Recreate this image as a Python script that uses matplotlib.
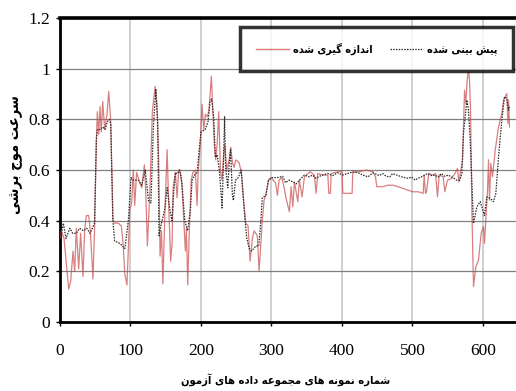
import matplotlib
matplotlib.use("Agg")
import matplotlib.pyplot as plt
from matplotlib.lines import Line2D

# test-set sample index vs shear-wave velocity
meas_x = [0, 1.9, 5.7, 9, 12.3, 15.1, 18.5, 20.8, 23.2, 26.5, 29.3, 32.6, 34.9, 37.4, 40.7, 43, 46.8, 49.2,
          51.6, 53, 55, 56.8, 58.5, 60.6, 63.4, 66.7, 69.1, 71.9, 73.5, 75.2, 78, 82.5, 87, 89.5, 92, 95,
          99, 101.7, 104, 106, 108.7, 112, 116, 119.7, 121.6, 124, 127.7, 131, 135, 137.5, 140, 142, 144,
          146, 149, 152, 154.5, 157, 159, 160.5, 163.7, 166.1, 168.5, 170.9, 173.2, 175.6, 177.9, 179.3,
          181.2, 183.5, 186.2, 188.5, 192, 194.5, 196, 199, 201.5, 204, 206.3, 208.6, 211, 213, 214.8,
          216.5, 219, 220.9, 222.9, 225.2, 227.6, 230, 232.4, 233.9, 236.5, 240, 242.3, 244.6, 247, 249.3,
          254, 257.4, 260.5, 263.5, 266.8, 269.7, 273, 275.4, 277.8, 280, 282.5, 284.7, 287, 289.5, 292,
          295.7, 299, 302.5, 305.8, 308.5, 310.9, 314.7, 318, 320.8, 325.5, 327.9, 330.3, 332.6, 337.4,
          339.7, 343.5, 346.8, 351.6, 354.9, 361, 363.4, 365.7, 372.8, 380, 381.4, 383.7, 384.7, 394.1,
          400.3, 401.2, 414.5, 415.4, 424.9, 434.3, 443.8, 447.6, 449.5, 458, 465, 472.2, 479.8, 486.9,
          494, 501.1, 508.2, 515.3, 516.7, 518.6, 520, 523.3, 529.5, 532.8, 535.6, 538, 543.7, 546,
          549.8, 555.5, 560.2, 564, 565.9, 569.2, 571.1, 574, 575.8, 577.7, 579.6, 581, 582.5, 584.4,
          586.7, 590, 593.8, 597.6, 600.9, 602.3, 604.2, 606.6, 608, 609.4, 611.3, 613.7, 617.5, 622.2,
          626.9, 629.3, 631.7, 634, 635.5, 636.4, 637.8]
meas_y = [0.33, 0.36, 0.33, 0.23, 0.13, 0.16, 0.28, 0.20, 0.37, 0.21, 0.35, 0.18, 0.36, 0.42, 0.42, 0.36, 0.17, 0.38,
          0.72, 0.83, 0.74, 0.85, 0.75, 0.87, 0.76, 0.82, 0.91, 0.80, 0.60, 0.40, 0.39, 0.39, 0.38, 0.31, 0.19, 0.146,
          0.44, 0.47, 0.60, 0.46, 0.59, 0.56, 0.53, 0.62, 0.52, 0.30, 0.53, 0.83, 0.93, 0.86, 0.64, 0.26, 0.36,
          0.15, 0.45, 0.68, 0.44, 0.24, 0.31, 0.53, 0.59, 0.49, 0.60, 0.59, 0.53, 0.40, 0.28, 0.37,
          0.146, 0.36, 0.56, 0.59, 0.60, 0.46, 0.59, 0.70, 0.86, 0.76, 0.82, 0.81, 0.83, 0.90, 0.97,
          0.86, 0.70, 0.64, 0.70, 0.83, 0.60, 0.56, 0.67, 0.70, 0.60, 0.64, 0.69, 0.63, 0.61, 0.64,
          0.63, 0.59, 0.48, 0.39, 0.38, 0.24, 0.33, 0.36, 0.35, 0.34, 0.20, 0.30, 0.40, 0.48, 0.50,
          0.56, 0.57, 0.56, 0.55, 0.50, 0.56, 0.57, 0.53, 0.488, 0.435, 0.534, 0.455, 0.553, 0.475,
          0.56, 0.494, 0.573, 0.586, 0.593, 0.58, 0.508, 0.586, 0.58, 0.58, 0.508, 0.508, 0.586, 0.593,
          0.593, 0.508, 0.508, 0.593, 0.593, 0.60, 0.593, 0.573, 0.534, 0.534, 0.54, 0.54, 0.534, 0.527,
          0.52, 0.514, 0.514, 0.508, 0.58, 0.508, 0.514, 0.586, 0.58, 0.586, 0.494, 0.58, 0.573, 0.514,
          0.56, 0.567, 0.586, 0.606, 0.553, 0.606, 0.64, 0.915, 0.862, 0.955, 0.994, 0.955, 0.836, 0.441,
          0.14, 0.218, 0.245, 0.35, 0.376, 0.31, 0.402, 0.521, 0.64, 0.481, 0.626, 0.573, 0.678, 0.77,
          0.823, 0.876, 0.889, 0.902, 0.784, 0.876, 0.77]

pred_x = [0, 2, 4.7, 8.5, 14, 18, 23, 28, 33, 38, 42.5, 46, 49, 51.6, 53, 57, 61, 64, 67, 70, 72, 75, 77.5,
          85, 92, 97, 100.8, 104, 111, 116, 121, 125.5, 129, 132.5, 136, 138.6, 140.5, 144, 149, 152, 156, 159, 161,
          163.7, 166, 170, 173, 177, 181, 185, 187.4, 191, 194.5, 198, 200, 206, 210, 213, 215, 218, 220.5, 223, 226,
          228, 230, 232, 233.5, 235, 238, 240, 242, 243.5, 244.6, 246, 249, 253, 257, 259, 262, 265, 268.5, 272, 277.8,
          282, 285, 287, 292, 296, 301, 308, 316, 320, 325, 330, 335, 339.7, 346.8, 354, 358, 363.4, 368, 372.8, 380,
          387, 394, 401, 408, 415, 422, 430, 437, 444, 453, 458, 463, 468, 472, 480, 485, 489, 494, 499, 504,
          508, 513, 517.6, 522, 527, 532, 536.6, 541, 546, 551, 555.5, 559, 562.6, 567.3, 570.2, 572.5, 577.3, 579.6, 582, 586.7,
          591.5, 596.2, 598.5, 602.3, 605.6, 610.4, 615.1, 618.4, 622.2, 626.9, 630.7, 634, 636.4, 637.8]
pred_y = [0.34, 0.35, 0.39, 0.33, 0.37, 0.35, 0.35, 0.37, 0.36, 0.37, 0.35, 0.37, 0.39, 0.72, 0.76, 0.76, 0.77, 0.76, 0.79, 0.80, 0.78, 0.40, 0.32,
          0.31, 0.29, 0.40, 0.57, 0.56, 0.56, 0.54, 0.60, 0.48, 0.47, 0.77, 0.92, 0.79, 0.34, 0.39, 0.45, 0.53, 0.44, 0.40, 0.50,
          0.59, 0.585, 0.60, 0.55, 0.40, 0.36, 0.44, 0.56, 0.58, 0.59, 0.69, 0.75, 0.76, 0.79, 0.87, 0.88, 0.81, 0.65, 0.66, 0.60,
          0.53, 0.45, 0.64, 0.81, 0.61, 0.53, 0.62, 0.68, 0.58, 0.50, 0.48, 0.56, 0.57, 0.60, 0.53, 0.42, 0.33, 0.29, 0.28, 0.30,
          0.30, 0.40, 0.49, 0.50, 0.56, 0.57, 0.57, 0.575, 0.55, 0.56, 0.554, 0.545, 0.56, 0.58, 0.573, 0.58, 0.567, 0.575, 0.58, 0.586,
          0.578, 0.589, 0.58, 0.586, 0.592, 0.59, 0.58, 0.573, 0.589, 0.578, 0.586, 0.575, 0.573, 0.586, 0.578, 0.573, 0.57, 0.567, 0.572, 0.56,
          0.568, 0.573, 0.58, 0.586, 0.578, 0.58, 0.572, 0.586, 0.575, 0.58, 0.572, 0.567, 0.56, 0.56, 0.586, 0.744, 0.876, 0.836, 0.718, 0.389,
          0.455, 0.475, 0.455, 0.42, 0.494, 0.488, 0.475, 0.508, 0.652, 0.797, 0.889, 0.882, 0.836, 0.85]

x_ticks = [0, 100, 200, 300, 400, 500, 600]
y_ticks = [0, 0.2, 0.4, 0.6, 0.8, 1.0, 1.2]
y_tick_labels = ["0", "0.2", "0.4", "0.6", "0.8", "1", "1.2"]

label_measured = "اندازه گیری شده"
label_predicted = "پیش بینی شده"
y_title = "سرعت موج برشی"
x_title = "شماره نمونه های مجموعه داده های آزمون"

# matplotlib has no Arabic shaping, so pick presentation forms by hand and flip to visual order
JOIN_FORMS = {
    # isolated, final, initial, medial
    "ا": ("\ufe8d", "\ufe8e", None, None),
    "آ": ("\ufe81", "\ufe82", None, None),
    "ب": ("\ufe8f", "\ufe90", "\ufe91", "\ufe92"),
    "پ": ("\ufb56", "\ufb57", "\ufb58", "\ufb59"),
    "ت": ("\ufe95", "\ufe96", "\ufe97", "\ufe98"),
    "ج": ("\ufe9d", "\ufe9e", "\ufe9f", "\ufea0"),
    "د": ("\ufea9", "\ufeaa", None, None),
    "ر": ("\ufead", "\ufeae", None, None),
    "ز": ("\ufeaf", "\ufeb0", None, None),
    "س": ("\ufeb1", "\ufeb2", "\ufeb3", "\ufeb4"),
    "ش": ("\ufeb5", "\ufeb6", "\ufeb7", "\ufeb8"),
    "ع": ("\ufec9", "\ufeca", "\ufecb", "\ufecc"),
    "گ": ("\ufb92", "\ufb93", "\ufb94", "\ufb95"),
    "م": ("\ufee1", "\ufee2", "\ufee3", "\ufee4"),
    "ن": ("\ufee5", "\ufee6", "\ufee7", "\ufee8"),
    "ه": ("\ufee9", "\ufeea", "\ufeeb", "\ufeec"),
    "و": ("\ufeed", "\ufeee", None, None),
    "ی": ("\ufbfc", "\ufbfd", "\ufbfe", "\ufbff"),
    "ي": ("\ufbfc", "\ufbfd", "\ufbfe", "\ufbff"),
}


def shape_fa(text):
    out = []
    for i, ch in enumerate(text):
        forms = JOIN_FORMS.get(ch)
        if forms is None:
            out.append(ch)
            continue
        prev = JOIN_FORMS.get(text[i - 1]) if i > 0 else None
        nxt = JOIN_FORMS.get(text[i + 1]) if i + 1 < len(text) else None
        join_prev = prev is not None and prev[2] is not None
        join_next = forms[2] is not None and nxt is not None
        if join_prev and join_next:
            out.append(forms[3])
        elif join_prev:
            out.append(forms[1])
        elif join_next:
            out.append(forms[2])
        else:
            out.append(forms[0])
    return "".join(reversed(out))


plt.rcParams.update({
    "font.family": ["Liberation Serif", "DejaVu Sans"],
    "font.size": 12.5,
})
FA = {"family": ["DejaVu Sans"], "weight": "bold", "stretch": "condensed"}

fig = plt.figure(figsize=(5.16, 3.91), dpi=100, facecolor="white")
ax = fig.add_axes([60 / 516, 1 - 322 / 391, 456 / 516, 304 / 391])

ax.plot(meas_x, meas_y, color="#C8494B", lw=0.9, alpha=0.7, zorder=3)
ax.plot(pred_x, pred_y, color="#2b2b2b", lw=0.9, ls=(0, (1.2, 1.0)), zorder=4)

ax.set_xlim(0, 647)
ax.set_ylim(0, 1.2)
ax.set_xticks(x_ticks)
ax.set_yticks(y_ticks)
ax.set_yticklabels(y_tick_labels)

ax.yaxis.grid(True, color="#808080", lw=0.9)
ax.xaxis.grid(True, color="#cccccc", lw=1.3)
ax.set_axisbelow(True)

ax.spines["right"].set_visible(False)
ax.spines["left"].set_linewidth(2.0)
ax.spines["bottom"].set_linewidth(2.0)
ax.spines["top"].set_linewidth(2.6)
ax.tick_params(axis="y", direction="out", length=3, width=1, pad=4)
ax.tick_params(axis="x", direction="out", length=3, width=1, pad=12)

fig.text(16 / 516, 1 - 155 / 391, shape_fa(y_title), rotation=90, ha="center", va="center",
         fontsize=10.5, fontdict=FA)
fig.text(286 / 516, 1 - 380 / 391, shape_fa(x_title), ha="center", va="center",
         fontsize=8, fontdict=FA)

handles = [
    Line2D([], [], color="#C8494B", lw=1.0, alpha=0.75, label=shape_fa(label_measured)),
    Line2D([], [], color="#2b2b2b", lw=0.9, ls=(0, (1.2, 1.0)), label=shape_fa(label_predicted)),
]
leg = ax.legend(handles=handles, ncol=2, loc="upper right", bbox_to_anchor=(0.993, 0.970),
                borderaxespad=0, frameon=True, fancybox=False, borderpad=1.45, handlelength=3.0,
                handletextpad=0.4, columnspacing=1.6,
                prop={"family": "DejaVu Sans", "weight": "bold", "stretch": "condensed", "size": 7.8})
leg.get_frame().set_edgecolor("black")
leg.get_frame().set_linewidth(2.5)

fig.savefig("out.png", dpi=100, facecolor="white")
